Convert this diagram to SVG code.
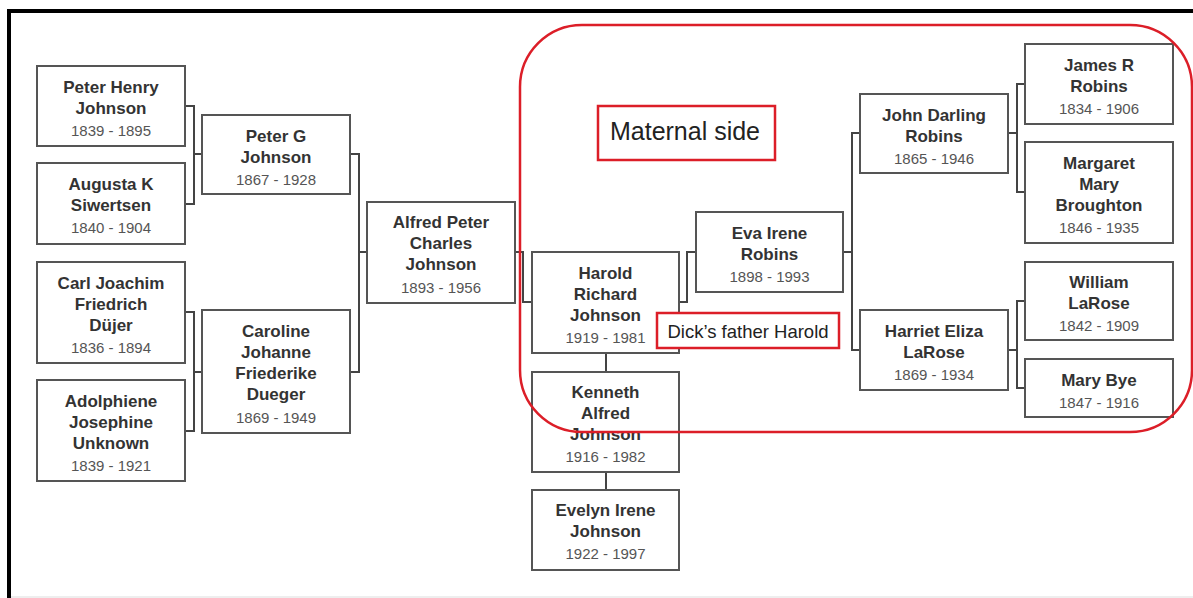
<svg xmlns="http://www.w3.org/2000/svg" width="1193" height="598" viewBox="0 0 1193 598">
<style>
.box{fill:#fff;stroke:#555;stroke-width:2}
.n{font-family:"Liberation Sans",Arial,sans-serif;font-size:17px;font-weight:bold;fill:#333;text-anchor:middle}
.d{font-family:"Liberation Sans",Arial,sans-serif;font-size:15px;fill:#555;text-anchor:middle}
.con{fill:none;stroke:#444;stroke-width:2}
.red{fill:none;stroke:#dc1e28;stroke-width:2.5}
.lab{fill:#fff;stroke:#dc1e28;stroke-width:2.5}
.lt{font-family:"Liberation Sans",Arial,sans-serif;fill:#222;text-anchor:middle}
</style>
<rect x="0" y="0" width="1193" height="598" fill="#fff"/>
<rect x="7" y="9" width="1186" height="4" fill="#000"/>
<rect x="7" y="9" width="4" height="589" fill="#000"/>
<line x1="11" y1="597" x2="1193" y2="597" stroke="#eee" stroke-width="2"/>

<g id="connectors">
<path class="con" d="M185 106H194V204H185M194 154H202"/>
<path class="con" d="M185 312H194V431H185M194 372H202"/>
<path class="con" d="M350 154H359V372H350M359 252H367"/>
<path class="con" d="M515 252H523V302H532"/>
<path class="con" d="M679 302H687V252H696"/>
<path class="con" d="M860 133H852V350H860M843 252H852"/>
<path class="con" d="M1025 84H1017V192H1025M1008 133H1017"/>
<path class="con" d="M1025 301H1017V388H1025M1008 350H1017"/>
<path class="con" d="M606 353V372M606 472V490"/>
</g>

<g id="peter-henry"><rect class="box" x="37" y="66" width="148" height="80"/>
<text class="n" x="111" y="93">Peter Henry</text><text class="n" x="111" y="114">Johnson</text><text class="d" x="111" y="136">1839 - 1895</text></g>
<g id="augusta"><rect class="box" x="37" y="163" width="148" height="81"/>
<text class="n" x="111" y="190">Augusta K</text><text class="n" x="111" y="211">Siwertsen</text><text class="d" x="111" y="233">1840 - 1904</text></g>
<g id="carl"><rect class="box" x="37" y="262" width="148" height="101"/>
<text class="n" x="111" y="289">Carl Joachim</text><text class="n" x="111" y="310">Friedrich</text><text class="n" x="111" y="331">Düjer</text><text class="d" x="111" y="353">1836 - 1894</text></g>
<g id="adolphiene"><rect class="box" x="37" y="380" width="148" height="101"/>
<text class="n" x="111" y="407">Adolphiene</text><text class="n" x="111" y="428">Josephine</text><text class="n" x="111" y="449">Unknown</text><text class="d" x="111" y="471">1839 - 1921</text></g>

<g id="peter-g"><rect class="box" x="202" y="115" width="148" height="79"/>
<text class="n" x="276" y="142">Peter G</text><text class="n" x="276" y="163">Johnson</text><text class="d" x="276" y="185">1867 - 1928</text></g>
<g id="caroline"><rect class="box" x="202" y="310" width="148" height="123"/>
<text class="n" x="276" y="337">Caroline</text><text class="n" x="276" y="358">Johanne</text><text class="n" x="276" y="379">Friederike</text><text class="n" x="276" y="400">Dueger</text><text class="d" x="276" y="423">1869 - 1949</text></g>

<g id="alfred"><rect class="box" x="367" y="202" width="148" height="101"/>
<text class="n" x="441" y="228">Alfred Peter</text><text class="n" x="441" y="249">Charles</text><text class="n" x="441" y="270">Johnson</text><text class="d" x="441" y="293">1893 - 1956</text></g>

<g id="harold"><rect class="box" x="532" y="252" width="147" height="101"/>
<text class="n" x="605.5" y="279">Harold</text><text class="n" x="605.5" y="300">Richard</text><text class="n" x="605.5" y="321">Johnson</text><text class="d" x="605.5" y="343">1919 - 1981</text></g>
<g id="kenneth"><rect class="box" x="532" y="372" width="147" height="100"/>
<text class="n" x="605.5" y="398">Kenneth</text><text class="n" x="605.5" y="419">Alfred</text><text class="n" x="605.5" y="440">Johnson</text><text class="d" x="605.5" y="462">1916 - 1982</text></g>
<g id="evelyn"><rect class="box" x="532" y="490" width="147" height="80"/>
<text class="n" x="605.5" y="516">Evelyn Irene</text><text class="n" x="605.5" y="537">Johnson</text><text class="d" x="605.5" y="559">1922 - 1997</text></g>

<g id="eva"><rect class="box" x="696" y="212" width="147" height="80"/>
<text class="n" x="769.5" y="239">Eva Irene</text><text class="n" x="769.5" y="260">Robins</text><text class="d" x="769.5" y="282">1898 - 1993</text></g>

<g id="john-darling"><rect class="box" x="860" y="94" width="148" height="79"/>
<text class="n" x="934" y="121">John Darling</text><text class="n" x="934" y="142">Robins</text><text class="d" x="934" y="164">1865 - 1946</text></g>
<g id="harriet"><rect class="box" x="860" y="310" width="148" height="80"/>
<text class="n" x="934" y="337">Harriet Eliza</text><text class="n" x="934" y="358">LaRose</text><text class="d" x="934" y="380">1869 - 1934</text></g>

<g id="james"><rect class="box" x="1025" y="44" width="148" height="80"/>
<text class="n" x="1099" y="71">James R</text><text class="n" x="1099" y="92">Robins</text><text class="d" x="1099" y="114">1834 - 1906</text></g>
<g id="margaret"><rect class="box" x="1025" y="142" width="148" height="101"/>
<text class="n" x="1099" y="169">Margaret</text><text class="n" x="1099" y="190">Mary</text><text class="n" x="1099" y="211">Broughton</text><text class="d" x="1099" y="233">1846 - 1935</text></g>
<g id="william"><rect class="box" x="1025" y="262" width="148" height="78"/>
<text class="n" x="1099" y="288">William</text><text class="n" x="1099" y="309">LaRose</text><text class="d" x="1099" y="331">1842 - 1909</text></g>
<g id="mary-bye"><rect class="box" x="1025" y="359" width="148" height="58"/>
<text class="n" x="1099" y="386">Mary Bye</text><text class="d" x="1099" y="408">1847 - 1916</text></g>

<g id="maternal-region"><rect class="red" x="520" y="25" width="672" height="407" rx="62" ry="62"/></g>
<g id="maternal-label"><rect class="lab" x="598" y="106" width="177" height="54"/>
<text class="lt" x="685" y="140" font-size="25">Maternal side</text></g>
<g id="dick-label"><rect class="lab" x="657" y="313" width="182" height="35"/>
<text class="lt" x="748" y="338" font-size="18.5" fill="#333">Dick’s father Harold</text></g>
</svg>
